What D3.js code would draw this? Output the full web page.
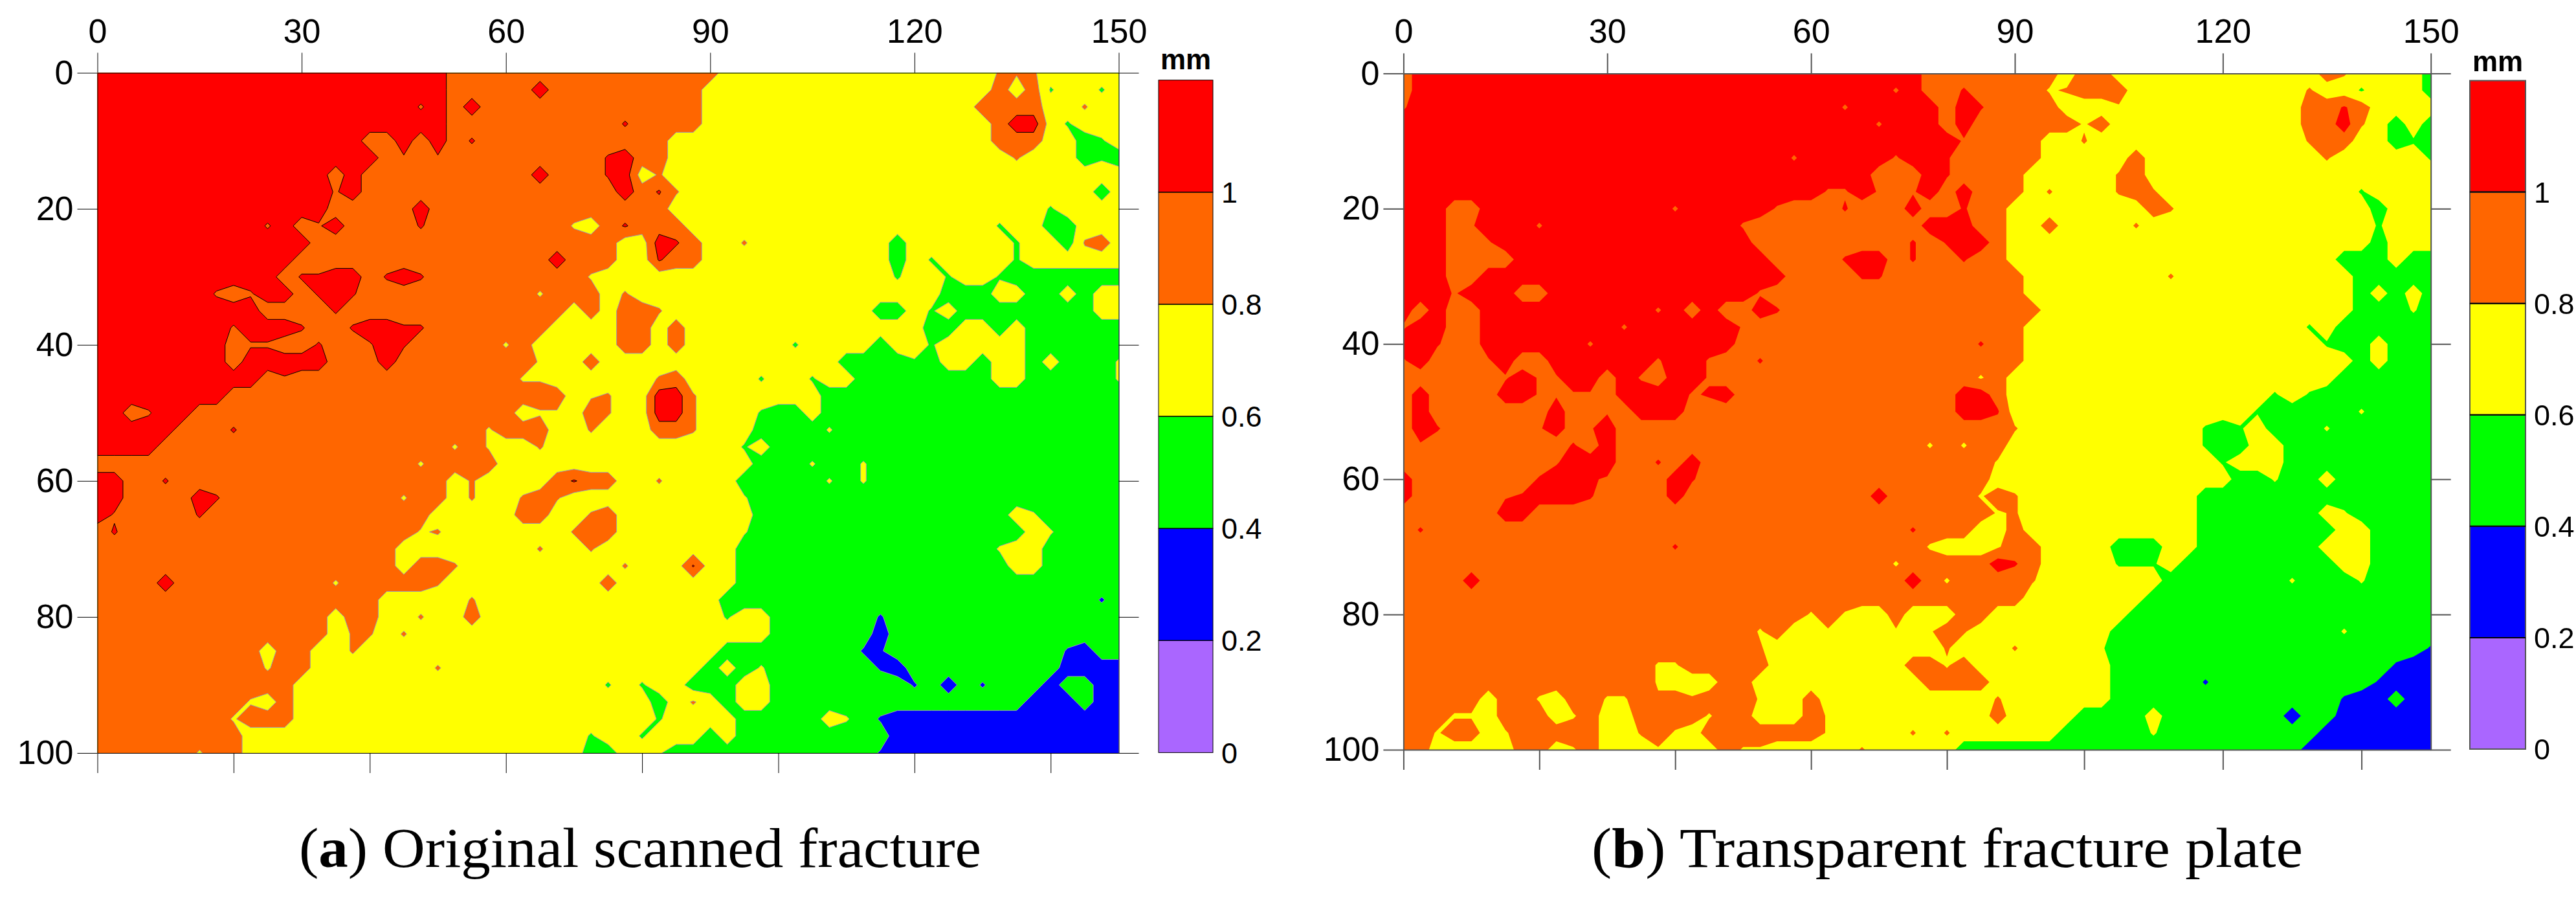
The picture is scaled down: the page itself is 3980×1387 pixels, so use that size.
<!DOCTYPE html>
<html>
<head>
<meta charset="utf-8">
<script src="https://cdn.jsdelivr.net/npm/d3@7"></script>
<style>
  html, body { margin: 0; padding: 0; background: #fff; }
  svg { display: block; }
</style>
</head>
<body>
<svg id="chart" width="3980" height="1387"></svg>
<script>
// contour levels in mm, and the colour of each band from the bottom up
const levels = [0, 0.2, 0.4, 0.6, 0.8, 1];
const bandColors = ["#aa66ff", "#0000ff", "#00ff00", "#ffff00", "#ff6600", "#ff0000"];
const legendLabels = ["0", "0.2", "0.4", "0.6", "0.8", "1"];

const xLabelTicks = [0, 30, 60, 90, 120, 150];
const xPlainTicks = [0, 20, 40, 60, 80, 100, 120, 140];
const yTicks = [0, 20, 40, 60, 80, 100];

// heights on a 2.5 mm grid, 61 columns by 41 rows.
// one code per grid point, see heightOfCode
const heightOfCode = {
  1: 0.3, 2: 0.5, 3: 0.7, 4: 0.9, 5: 1.1,
  a: 0.98, r: 1.02, o: 0.82, y: 0.78, l: 0.62, g: 0.58, b: 0.38
};

const fractureA = [
  "5555555555 5555555555 5444444444 4444444333 3333333333 333ooo3333 3",
  "5555555555 5555555555 5444445444 4444443333 3333333333 333434g33g 3",
  "5555555555 555555555a 5454444444 4444443333 3333333333 33444433o3 3",
  "5555555555 5555555555 5444444444 4r44443333 3333333333 3334553g33 3",
  "5555555555 5555554454 54r4444444 4444333333 3333333333 333444332g 3",
  "5555555555 55555554a4 a444444444 r544333333 3333333333 3333o3332g 2",
  "5555555555 5555454444 4444445444 r53o333333 3333333333 3333333333 3",
  "5555555555 5555a54444 4444444444 454ro33333 3333333333 3333333332 3",
  "5555555555 5555444445 4444444444 4444333333 3333333333 333333g333 3",
  "5555555555 a54a54444r 44444444y3 4r44433333 3333333333 333g332233 3",
  "5555555555 5554444444 4444444444 4335r433o3 3333333233 3333g332o4 3",
  "5555555555 5544444444 4444444544 433r443333 333333323g 3333g33333 3",
  "5555555555 54rr554r5r 444444444y 3333333333 3333333g33 g33g222222 2",
  "5555555a4a 554r5r4444 444444y444 3o33333333 3333333333 2223322323 3",
  "5555555555 4444r44444 4444444434 344o333333 333333223g 3222222223 3",
  "55555555a5 55r44r55rr 4444444333 3443433333 3333333332 2332322222 2",
  "555555554a a44r44a5r4 4444y43333 3443433333 3g3333233g 3333322222 2",
  "5555555545 5555444544 444444y334 3333333333 33332222g2 3323323222 l",
  "5555555555 4a44444444 44444yy333 333o43333g 33g3322222 2223322222 l",
  "5555555544 4444444444 444444443y o3355o3333 3332222222 2222222222 2",
  "554a554444 4444444444 444443yy34 o3355o333g 2232222222 2222222222 2",
  "55555444r4 4444444444 444y44433o 33344o3332 222l222222 2222222222 2",
  "5555444444 4444444444 4y4y33o333 33333333g3 2222222222 2222222222 2",
  "4444444444 444444444y 4444333333 3333333332 22l22l2222 2222222222 2",
  "5544r44444 4444444444 43o33334r4 433o333322 222l2l2222 2222222222 2",
  "5544445r44 44444444y4 43o33o4o33 33333333l2 2222222222 2222222222 2",
  "5a4444r444 4444444444 333334433o 4333333332 2222222222 22223l2222 2",
  "4r44444444 444444444y o3333333o4 43333333l2 2222222222 222223l222 2",
  "4444444444 4444444433 333333o33o 3333333322 2222222222 222l332222 2",
  "4444444444 4444444434 4o33333333 3o333r3322 2222222222 2222332222 2",
  "4444544444 4444y44444 o333333333 4333333322 2222222222 2222222222 2",
  "4444444444 4444444333 33o3333333 3333333222 2222222222 222222222b 2",
  "4444444444 444434433o 3343333333 3333333g33 222222b222 2222222222 2",
  "4444444444 44443oo3o3 3333333333 3333333333 2222221222 2222222222 2",
  "4444444444 34433o3333 3333333333 3333333222 22222bb222 2222222b12 2",
  "4444444444 y443333333 o333333333 333333232l 222222b122 2222222111 1",
  "4444444444 4433333333 3333333333 g3g3322233 22222222b2 12b2221221 1",
  "444444444y 3433333333 3333333333 33323o3233 2222222222 2222211121 1",
  "44444444y4 4433333333 3333333333 333g333322 2223l2b111 1111111111 1",
  "4444444443 3333333333 333333333g 33g3332322 2222222111 1111111111 1",
  "444444y443 3333333333 3333333332 233l222222 222222b111 1111111111 1"
];

const fractureB = [
  "4555555555 5555555555 5555555555 5444444443 4433333333 33334o3333 2",
  "4555555555 5555555555 555555555a 544r4444yo 4443333333 333o33g333 2",
  "a555555555 5555555555 555555a555 5545r44443 33y3333333 33344r4333 3",
  "5555555555 5555555555 55555555a5 5545444444 y433333333 333445o323 2",
  "5555555555 5555555555 5555555555 555a444433 o333333333 333o44332g 2",
  "5555555555 5555555555 555a55555a 55r4444433 3334333333 3333o33333 g",
  "5555555555 5555555555 5555555544 45r4444333 33o4333333 3333333333 3",
  "5555555555 5555555555 55555aa5a4 a5454443o3 33o4o33333 333333g333 3",
  "5554455555 555555a555 55a444r444 544r443333 33334o3333 3333333233 3",
  "5554a555a5 5555555555 a444444444 4555443343 333o333333 3333333g33 3",
  "55544a5555 5555555555 5444444444 r4r5543333 3333333333 3333333233 3",
  "5554444555 5555555555 554444r554 r44r443333 3333333333 3333322232 2",
  "5554455555 5555555555 5554444rr4 4444444333 33333o3333 3333332222 2",
  "555a555445 5555555555 5a44444444 4444444333 3333333333 3333332323 2",
  "5454455555 55555a5454 45r4444444 4444444433 3333333333 333333222l 2",
  "a554455555 555a555555 a444444444 4444444333 3333333333 333g322222 2",
  "55r4455555 5a55555555 4444444444 4444r44333 3333333333 3333g22322 2",
  "a5444a5445 55555a55a4 4r44444444 4444444333 3333333333 3333332322 2",
  "444444a5aa 5545a455a4 4444444444 4444y43333 3333333333 3333322222 2",
  "45444455aa aa45555ar5 4444444444 4445543333 3333333333 3g3g222222 2",
  "4544444445 44a4555444 4444444444 44455r3333 3333333333 g22222l222 2",
  "45r44444a5 4a54444444 4444444444 444444o333 3333333g2g 3222l22222 2",
  "4a44444444 r454444444 4444444444 4y4y443333 3333333g22 3322222222 2",
  "444444444a 55544r4544 4444444444 44444y3333 33333333g3 3322222222 2",
  "54444444r5 5ra4445r44 4444444444 4444433333 3333333332 2l22322222 2",
  "544444ar55 5r44445444 4444444454 4444y4o333 3333333222 2222222222 2",
  "4444445544 4444444444 4444444444 44444yo333 3333333222 22223l2222 2",
  "4r44444444 4444444444 4444444444 r444334333 3333333222 2222233222 2",
  "4444444444 444444r444 4444444444 4y333y4433 3322233222 2222333222 2",
  "4444444444 4444444444 444444444y 444445r433 33ggg32222 2222233222 2",
  "4444544444 4444444444 4444444444 54y4444o33 3333322222 22l222l222 2",
  "4444444444 4444444444 4444444444 4444444333 3333222222 2222222222 2",
  "4444444444 4444444444 4444y4y334 3334433333 3332222222 2222222222 2",
  "4444444444 4444444444 4y43yy333y 3y4o333333 3322222222 22222l2222 2",
  "4444444444 4444444444 4o33333333 33o333o333 3l22222222 2222222222 b",
  "4444444444 44444yy444 4433y33333 44y4333333 3322222222 22222222b1 1",
  "4444444444 44444y3334 43333y3333 3444433333 3322222b22 2222222b11 1",
  "44444344y3 44yy4o4o44 4y33433333 33333o3333 3322222222 22222b1121 1",
  "444yy34443 y4334444y4 43334y3333 3333343333 2222322222 2212211111 1",
  "44y443y444 4433o4y344 44444y3333 o3o3333332 2222l22222 2222111111 1",
  "4433333443 y4333y3334 yy33333o33 3332222222 2222222222 2221111111 1"
];

const gridStep = 2.5, gridCols = 61, gridRows = 41;

function parseGrid(rows) {
  const values = [];
  rows.forEach(row => {
    const codes = row.replace(/ /g, "").split("");
    for (let i = 0; i < gridCols; i++) values.push(heightOfCode[codes[Math.min(i, codes.length - 1)]]);
  });
  return values;
}

const svg = d3.select("#chart");
const sansFont = "'Liberation Sans', Arial, sans-serif";

function drawPanel(p) {
  const g = svg.append("g");
  if (p.blur) g.style("filter", `blur(${p.blur}px)`);

  const x = d3.scaleLinear().domain(p.xDomain).range(p.xRange);
  const y = d3.scaleLinear().domain([0, 100]).range(p.yRange);

  // contour coordinates have grid point i at i + 0.5
  const project = d3.geoTransform({
    point: function (cx, cy) {
      this.stream.point(x((cx - 0.5) * gridStep), y((cy - 0.5) * gridStep));
    }
  });
  const path = d3.geoPath(project);

  const contours = d3.contours()
    .size([gridCols, gridRows])
    .thresholds(levels.slice(1))(parseGrid(p.grid));

  const clipId = "clip-" + p.id;
  g.append("clipPath").attr("id", clipId)
    .append("rect")
    .attr("x", x(0)).attr("y", y(0))
    .attr("width", x(150) - x(0)).attr("height", y(100) - y(0));

  g.append("g")
    .attr("clip-path", `url(#${clipId})`)
    .selectAll("path")
    .data(contours)
    .enter()
    .append("path")
    .attr("d", path)
    .attr("fill", (d, i) => bandColors[i + 1])
    .attr("stroke", d => d.value === 1 ? p.redLine : p.bandLine)
    .attr("stroke-width", p.contourWidth);

  // frame and ticks, all four sides
  const axes = [
    { axis: d3.axisTop(x).tickValues(xLabelTicks).tickPadding(16), at: [0, y(0)] },
    { axis: d3.axisLeft(y).tickValues(yTicks).tickPadding(6), at: [x(0), 0] },
    { axis: d3.axisBottom(x).tickValues(xPlainTicks).tickFormat(""), at: [0, y(100)] },
    { axis: d3.axisRight(y).tickValues(yTicks).tickFormat(""), at: [x(150), 0] }
  ];
  axes.forEach(a => {
    const ag = g.append("g")
      .attr("transform", `translate(${a.at[0]},${a.at[1]})`)
      .call(a.axis.tickSize(p.tickLength).tickSizeOuter(0));
    ag.attr("font-family", sansFont).attr("font-size", 52);
    ag.selectAll("text").attr("fill", "#000");
    ag.selectAll("line, path").attr("stroke", p.axisColor).attr("stroke-width", p.axisWidth);
  });

  // colour scale to the right
  const legendY = d3.scaleLinear().domain([0, 1.2]).range(p.legendYRange);
  const legendTops = levels.concat(1.2);
  g.selectAll("rect.band")
    .data(levels)
    .enter()
    .append("rect")
    .attr("class", "band")
    .attr("x", p.legendX)
    .attr("width", p.legendWidth)
    .attr("y", (d, i) => legendY(legendTops[i + 1]))
    .attr("height", (d, i) => legendY(d) - legendY(legendTops[i + 1]))
    .attr("fill", (d, i) => bandColors[i])
    .attr("stroke", p.legendStroke)
    .attr("stroke-width", p.axisWidth);

  // separators between the bands stay black on both panels
  g.selectAll("line.sep")
    .data(levels.slice(1))
    .enter()
    .append("line")
    .attr("class", "sep")
    .attr("x1", p.legendX).attr("x2", p.legendX + p.legendWidth)
    .attr("y1", d => legendY(d)).attr("y2", d => legendY(d))
    .attr("stroke", "#000")
    .attr("stroke-width", p.axisWidth);

  g.selectAll("text.level")
    .data(levels)
    .enter()
    .append("text")
    .attr("class", "level")
    .attr("x", p.legendLabelX)
    .attr("y", d => legendY(d))
    .attr("dy", "0.36em")
    .attr("font-family", sansFont)
    .attr("font-size", 45)
    .text((d, i) => legendLabels[i]);

  g.append("text")
    .attr("x", p.legendX + p.legendWidth / 2)
    .attr("y", p.unitY)
    .attr("text-anchor", "middle")
    .attr("font-family", sansFont)
    .attr("font-weight", "bold")
    .attr("font-size", 44)
    .text("mm");

  // caption
  const cap = svg.append("text")
    .attr("x", p.captionX)
    .attr("y", 1339)
    .attr("font-family", "'Liberation Serif', 'Times New Roman', serif")
    .attr("font-size", 86)
    .attr("textLength", p.captionWidth)
    .attr("lengthAdjust", "spacingAndGlyphs");
  cap.append("tspan").text("(");
  cap.append("tspan").attr("font-weight", "bold").text(p.captionLetter);
  cap.append("tspan").text(") " + p.caption);
}

drawPanel({
  id: "a",
  grid: fractureA,
  xDomain: [0, 150], xRange: [150.5, 1728.5],
  yRange: [112.5, 1163],
  tickLength: 31, axisColor: "#000", axisWidth: 1,
  contourWidth: 1, redLine: "#000", bandLine: "#9a9ab4",
  legendX: 1790, legendWidth: 84, legendYRange: [1162.4, 123.7],
  legendStroke: "#000", legendLabelX: 1887, unitY: 107,
  captionX: 462, captionWidth: 1054, captionLetter: "a", caption: "Original scanned fracture"
});

drawPanel({
  id: "b",
  grid: fractureB,
  xDomain: [0, 90, 150], xRange: [2168.4, 3113, 3755.7],
  yRange: [113.4, 1158],
  tickLength: 31, axisColor: "#555", axisWidth: 2,
  contourWidth: 0, redLine: "none", bandLine: "none",
  legendX: 3816, legendWidth: 86, legendYRange: [1157, 124.5],
  legendStroke: "#555", legendLabelX: 3915, unitY: 110,
  captionX: 2459, captionWidth: 1099, captionLetter: "b", caption: "Transparent fracture plate",
  blur: 0.7
});
</script>
</body>
</html>
